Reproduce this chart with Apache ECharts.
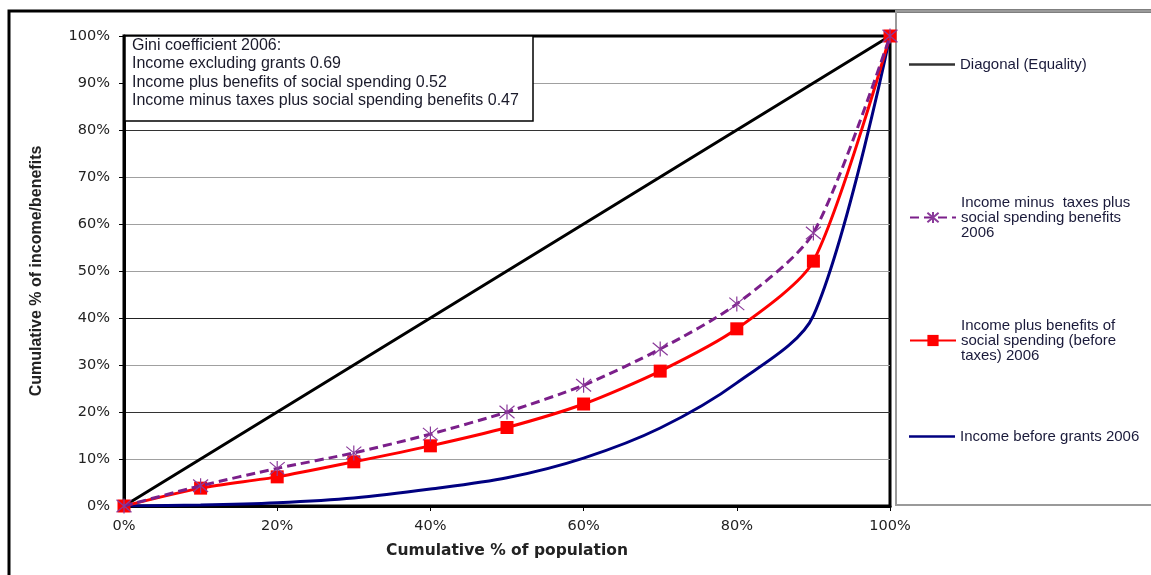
<!DOCTYPE html>
<html><head><meta charset="utf-8">
<script src="https://cdn.jsdelivr.net/npm/echarts@6/dist/echarts.min.js"></script>
<style>html,body{margin:0;padding:0;background:#fff}#c{width:1151px;height:575px}</style>
</head><body><div id="c"></div>
<script>
const population = [0, 10, 20, 30, 40, 50, 60, 70, 80, 90, 100];
const diagonal = [0, 10, 20, 30, 40, 50, 60, 70, 80, 90, 100];
const minusTaxesPlusBenefits = [0, 4.3, 8.0, 11.3, 15.3, 20.0, 25.7, 33.4, 43.0, 58.1, 100];
const plusBenefits = [0, 3.8, 6.2, 9.4, 12.8, 16.7, 21.7, 28.7, 37.7, 52.1, 100];
const beforeGrants = [0, 0.2, 0.7, 1.7, 3.6, 6.0, 10.2, 16.6, 26.2, 40.5, 100];
const seriesNames = [
  'Diagonal (Equality)',
  'Income minus  taxes plus\nsocial spending benefits\n2006',
  'Income plus benefits of\nsocial spending (before\ntaxes) 2006',
  'Income before grants 2006'
];
const giniLines = [
  'Gini coefficient 2006:',
  'Income excluding grants 0.69',
  'Income plus benefits of social spending 0.52',
  'Income minus taxes plus social spending benefits 0.47'
];
const xAxisTitle = 'Cumulative % of population';
const yAxisTitle = 'Cumulative % of income/benefits';

const pair = (ys) => population.map((x, i) => [x, ys[i]]);
const tickFont = 'DejaVu Sans';
const starPath = 'path://M0,0L10,10M10,0L0,10M5,-1L5,11';

const chart = echarts.init(document.getElementById('c'), null, {renderer: 'canvas'});
const legendText = {fontFamily: 'Liberation Sans', fontSize: 15, color: '#1a1a3a', lineHeight: 15};
const legendBase = {
  left: 904, orient: 'vertical', itemWidth: 46, itemHeight: 14, itemGap: 6,
  selectedMode: false, textStyle: legendText
};
chart.setOption({
  animation: false,
  backgroundColor: '#fff',
  grid: {left: 124, right: 261, top: 36, bottom: 69, show: true, borderColor: '#000', borderWidth: 3, backgroundColor: '#fff'},
  xAxis: {
    type: 'value', min: 0, max: 100, interval: 20,
    name: xAxisTitle, nameLocation: 'middle', nameGap: 37,
    nameTextStyle: {fontFamily: 'DejaVu Sans', fontWeight: 'bold', fontSize: 15.5, color: '#222'},
    axisLine: {show: true, lineStyle: {color: '#000', width: 3}},
    axisTick: {show: true, length: 5, lineStyle: {color: '#000', width: 1}},
    axisLabel: {formatter: '{value}%', fontFamily: tickFont, fontSize: 14.5, color: '#222', margin: 13},
    splitLine: {show: false}
  },
  yAxis: {
    type: 'value', min: 0, max: 100, interval: 10,
    name: yAxisTitle, nameLocation: 'middle', nameGap: 79, nameRotate: 90,
    nameTextStyle: {fontFamily: 'Liberation Sans', fontWeight: 'bold', fontSize: 16, color: '#222'},
    axisLine: {show: true, lineStyle: {color: '#000', width: 3}},
    axisTick: {show: true, length: 5, lineStyle: {color: '#000', width: 1}},
    axisLabel: {formatter: '{value}%', fontFamily: tickFont, fontSize: 14.5, color: '#222', margin: 14},
    splitLine: {show: true, lineStyle: {width: 1.2, color: ['#000', '#a0a0a0', '#333', '#a0a0a0', '#222', '#a0a0a0', '#a0a0a0', '#a0a0a0', '#333', '#a0a0a0', '#000']}}
  },
  legend: [
    Object.assign({}, legendBase, {top: 52, data: [{name: seriesNames[0], icon: 'rect', itemStyle: {color: '#333'}}], itemHeight: 2.5}),
    Object.assign({}, legendBase, {top: 175, data: [{name: seriesNames[1]}], textStyle: Object.assign({}, legendText, {padding: [0, 0, 30, 0]})}),
    Object.assign({}, legendBase, {top: 298, data: [{name: seriesNames[2]}], textStyle: Object.assign({}, legendText, {padding: [0, 0, 30, 0]})}),
    Object.assign({}, legendBase, {top: 424, data: [{name: seriesNames[3], icon: 'rect', itemStyle: {color: '#000080'}}], itemHeight: 2.5})
  ],
  graphic: [
    {type: 'rect', z: 0, silent: true, shape: {x: 9, y: 11, width: 1160, height: 600}, style: {fill: 'none', stroke: '#000', lineWidth: 3}},
    {type: 'rect', z: 0, silent: true, shape: {x: 896, y: 11, width: 300, height: 494}, style: {fill: 'none', stroke: '#9a9a9a', lineWidth: 2}},
    {type: 'rect', z: 10, silent: true, shape: {x: 125, y: 36, width: 408, height: 85}, style: {fill: '#fff', stroke: '#000', lineWidth: 1.5}},
    {type: 'text', z: 11, silent: true, left: 132, top: 36, style: {text: giniLines.join('\n'), fontFamily: 'Liberation Sans', fontSize: 16, lineHeight: 18.5, fill: '#1a1a2a'}}
  ],
  series: [
    {name: seriesNames[0], type: 'line', data: pair(diagonal), showSymbol: false, symbol: 'none',
     lineStyle: {color: '#000', width: 3}, itemStyle: {color: '#000'}, z: 2},
    {name: seriesNames[3], type: 'line', data: pair(beforeGrants), symbol: 'none', smooth: 0.3,
     lineStyle: {color: '#000080', width: 3}, itemStyle: {color: '#000080'}, z: 3},
    {name: seriesNames[2], type: 'line', data: pair(plusBenefits), symbol: 'rect', symbolSize: 13, smooth: 0.25,
     lineStyle: {color: '#ff0000', width: 3}, itemStyle: {color: '#ff0000'}, z: 4},
    {name: seriesNames[1], type: 'line', data: pair(minusTaxesPlusBenefits), symbol: starPath, symbolSize: 15, smooth: 0.25,
     lineStyle: {color: '#7b1f8a', width: 3, type: [9, 5]}, itemStyle: {color: 'rgba(0,0,0,0)', borderColor: '#8a3a9a', borderWidth: 1.2}, z: 5}
  ]
});
</script>
</body></html>
